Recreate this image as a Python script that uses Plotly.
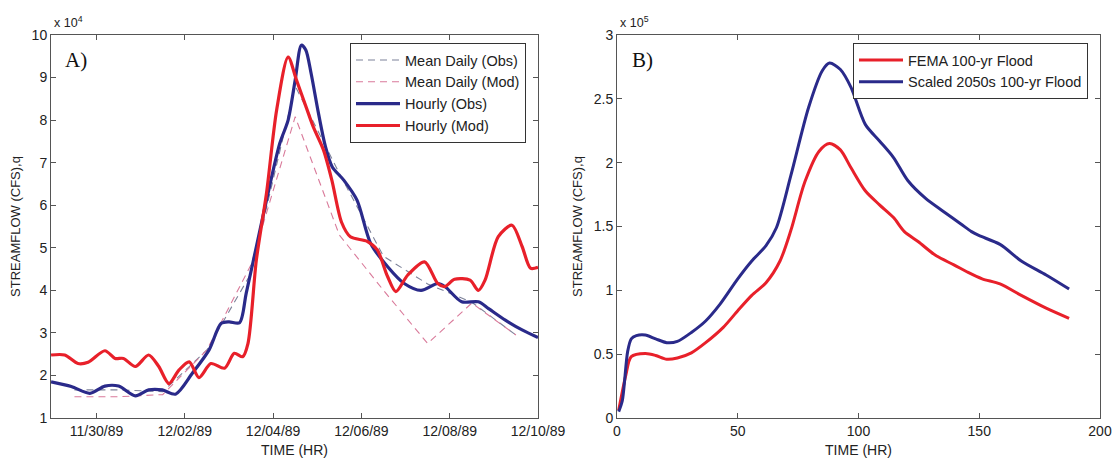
import pandas as pd
import plotly.graph_objects as go

# ---------------- Panel A data (streamflow in units of 1e4 cfs) ----------------
# time as days after 11/30/1989 00:00
hourly_obs_days = [-1.03, -0.57, -0.15, 0.19, 0.5, 0.88, 1.18, 1.49, 1.79, 2.17, 2.55, 2.82, 3.0, 3.24,
                   3.39, 3.62, 3.85, 4.15, 4.34, 4.5, 4.64, 4.74, 4.86, 5.02, 5.18, 5.34, 5.6, 5.9, 6.21,
                   6.59, 6.97, 7.35, 7.73, 7.89, 8.27, 8.65, 8.88, 9.26, 9.64, 10.0]
hourly_obs = [1.85, 1.74, 1.58, 1.75, 1.75, 1.52, 1.66, 1.66, 1.56, 2.05, 2.6, 3.22, 3.26, 3.24,
              3.93, 5.02, 6.12, 7.45, 8.0, 8.94, 9.76, 9.65, 9.1, 8.2, 7.4, 6.9, 6.59, 6.12, 5.10,
              4.56, 4.16, 4.0, 4.16, 4.09, 3.73, 3.73, 3.57, 3.30, 3.07, 2.89]

hourly_mod_days = [-1.03, -0.72, -0.42, -0.19, 0.19, 0.42, 0.61, 0.88, 1.18, 1.41, 1.64, 1.87, 2.1, 2.32,
                   2.59, 2.9, 3.12, 3.31, 3.43, 3.62, 3.85, 4.08, 4.34, 4.53, 4.75, 4.91, 5.14, 5.33,
                   5.55, 5.75, 6.13, 6.36, 6.59, 6.78, 7.05, 7.43, 7.73, 7.89, 8.11, 8.46, 8.65, 8.8,
                   9.1, 9.41, 9.64, 9.83, 10.0]
hourly_mod = [2.48, 2.48, 2.28, 2.31, 2.58, 2.40, 2.40, 2.21, 2.48, 2.21, 1.81, 2.13, 2.32, 1.95,
              2.28, 2.17, 2.52, 2.44, 2.75, 4.71, 6.28, 8.24, 9.48, 8.94, 8.3, 7.84, 7.30, 6.59,
              5.6, 5.26, 5.15, 4.95, 4.33, 3.97, 4.36, 4.67, 4.16, 4.09, 4.26, 4.24, 4.0, 4.24,
              5.26, 5.53, 5.03, 4.52, 4.54]

daily_days = [-0.5, 0.5, 1.5, 2.5, 3.5, 4.5, 5.5, 6.5, 7.5, 8.5, 9.5]
daily_obs = [1.66, 1.66, 1.62, 2.6, 4.4, 8.8, 6.75, 4.8, 4.15, 3.72, 2.95]
daily_mod = [1.5, 1.5, 1.55, 2.6, 4.6, 8.08, 5.3, 4.0, 2.75, 3.7, 2.95]

date_ticks = ["1989-11-30", "1989-12-02", "1989-12-04", "1989-12-06", "1989-12-08", "1989-12-10"]
date_tick_labels = ["11/30/89", "12/02/89", "12/04/89", "12/06/89", "12/08/89", "12/10/89"]

# ---------------- Panel B data (streamflow in units of 1e5 cfs) ----------------
fema_hours = [0.7, 3.7, 5.9, 11.7, 16, 20.6, 25, 30.8, 36.7, 44, 50, 55.8, 61.7, 67.5, 72, 77.8, 83.7,
              88, 92.5, 96.9, 102.8, 108.7, 114.5, 119, 124.8, 132.2, 139.5, 145.4, 151.2, 158.6,
              167.4, 177.7, 187.2]
fema_flow = [0.06, 0.34, 0.48, 0.505, 0.49, 0.46, 0.47, 0.51, 0.59, 0.71, 0.84, 0.96, 1.06, 1.23, 1.47,
             1.85, 2.09, 2.15, 2.1, 1.96, 1.78, 1.67, 1.57, 1.46, 1.38, 1.27, 1.2, 1.14, 1.09, 1.05,
             0.96, 0.86, 0.78]
scaled_hours = [0.7, 2.2, 4.4, 5.9, 8, 11.7, 16, 20.6, 25, 30.8, 36.7, 42.6, 50, 55.8, 61.7, 66, 72,
                79.3, 85, 88, 92.5, 96.9, 102.8, 108.7, 114.5, 120.4, 127.8, 135, 142.4, 146.8, 149.8,
                158.6, 167.4, 177.7, 187.2]
scaled_flow = [0.05, 0.135, 0.52, 0.62, 0.645, 0.65, 0.62, 0.59, 0.6, 0.67, 0.76, 0.89, 1.09, 1.23,
               1.35, 1.49, 1.9, 2.43, 2.72, 2.78, 2.73, 2.59, 2.3, 2.17, 2.04, 1.86, 1.72, 1.62, 1.52,
               1.46, 1.43, 1.36, 1.23, 1.12, 1.01]

# ---------------- styling ----------------
RED = "#e8202a"
BLUE = "#2a2a8a"
OBS_DASH = "#7d8299"
MOD_DASH = "#d97a9a"
AXC = "#555555"
FONT = "Liberation Sans, Arial, sans-serif"
SERIF = "Liberation Serif, Times New Roman, serif"

W, H = 1117, 458
base = pd.Timestamp("1989-11-30")


def to_dates(days):
    return [base + pd.to_timedelta(d, unit="D") for d in days]


fig = go.Figure()

fig.add_trace(go.Scatter(x=to_dates(daily_days), y=daily_obs, mode="lines", name="Mean Daily (Obs)",
                         line=dict(color=OBS_DASH, width=1.1, dash="7px,5px"), xaxis="x", yaxis="y",
                         legend="legend"))
fig.add_trace(go.Scatter(x=to_dates(daily_days), y=daily_mod, mode="lines", name="Mean Daily (Mod)",
                         line=dict(color=MOD_DASH, width=1.1, dash="7px,5px"), xaxis="x", yaxis="y",
                         legend="legend"))
fig.add_trace(go.Scatter(x=to_dates(hourly_obs_days), y=hourly_obs, mode="lines", name="Hourly (Obs)",
                         line=dict(color=BLUE, width=3.2, shape="spline", smoothing=0.8), xaxis="x",
                         yaxis="y", legend="legend"))
fig.add_trace(go.Scatter(x=to_dates(hourly_mod_days), y=hourly_mod, mode="lines", name="Hourly (Mod)",
                         line=dict(color=RED, width=3.2, shape="spline", smoothing=0.8), xaxis="x",
                         yaxis="y", legend="legend"))

fig.add_trace(go.Scatter(x=fema_hours, y=fema_flow, mode="lines", name="FEMA 100-yr Flood",
                         line=dict(color=RED, width=3, shape="spline", smoothing=0.8), xaxis="x2",
                         yaxis="y2", legend="legend2"))
fig.add_trace(go.Scatter(x=scaled_hours, y=scaled_flow, mode="lines", name="Scaled 2050s 100-yr Flood",
                         line=dict(color=BLUE, width=3, shape="spline", smoothing=0.8), xaxis="x2",
                         yaxis="y2", legend="legend2"))

ytop = 1 - 35 / H
ybot = 1 - 418 / H

axis_common = dict(showline=True, linecolor=AXC, linewidth=1, mirror="ticks", ticks="inside",
                   ticklen=5, tickcolor=AXC, showgrid=False, zeroline=False, automargin=False,
                   tickfont=dict(family=FONT, size=14, color="#222"))

legend_common = dict(y=1 - 43 / H, xanchor="left", yanchor="top",
                     bgcolor="white", bordercolor="#333", borderwidth=1,
                     font=dict(family=FONT, size=14.5, color="#222"), tracegroupgap=0,
                     itemwidth=44)

fig.update_layout(
    width=W, height=H, autosize=False,
    margin=dict(l=0, r=0, t=0, b=0),
    paper_bgcolor="white", plot_bgcolor="white",
    font=dict(family=FONT, size=13, color="#222"),
    xaxis=dict(domain=[51 / W, 538 / W], type="date",
               range=["1989-11-28 23:15", "1989-12-10 00:00"],
               tickvals=date_ticks, ticktext=date_tick_labels,
               title=dict(text="TIME (HR)", font=dict(family=FONT, size=14), standoff=9),
               anchor="y", **axis_common),
    yaxis=dict(domain=[ybot, ytop], range=[1, 10], dtick=1, tick0=1,
               title=dict(text="STREAMFLOW (CFS),q", font=dict(family=FONT, size=13), standoff=8),
               anchor="x", **axis_common),
    xaxis2=dict(domain=[617 / W, 1100 / W], range=[0, 200], dtick=50, tick0=0,
                title=dict(text="TIME (HR)", font=dict(family=FONT, size=14), standoff=9),
                anchor="y2", **axis_common),
    yaxis2=dict(domain=[ybot, ytop], range=[0, 3], dtick=0.5, tick0=0,
                title=dict(text="STREAMFLOW (CFS),q", font=dict(family=FONT, size=13), standoff=8),
                anchor="x2", **axis_common),
    legend=dict(x=350 / W, **legend_common),
    legend2=dict(x=853 / W, **legend_common),
    showlegend=True,
)

fig.add_annotation(x=52 / W, y=1 - 22 / H, xref="paper", yref="paper", xanchor="left",
                   yanchor="middle", showarrow=False, text="x 10<sup>4</sup>",
                   font=dict(family=FONT, size=12.5, color="#222"))
fig.add_annotation(x=618 / W, y=1 - 22 / H, xref="paper", yref="paper", xanchor="left",
                   yanchor="middle", showarrow=False, text="x 10<sup>5</sup>",
                   font=dict(family=FONT, size=12.5, color="#222"))
fig.add_annotation(x=63 / W, y=1 - 60 / H, xref="paper", yref="paper", xanchor="left",
                   yanchor="middle", showarrow=False, text="A)",
                   font=dict(family=SERIF, size=21, color="#111"))
fig.add_annotation(x=630 / W, y=1 - 60 / H, xref="paper", yref="paper", xanchor="left",
                   yanchor="middle", showarrow=False, text="B)",
                   font=dict(family=SERIF, size=21, color="#111"))

fig.write_html("out.html", config={"displayModeBar": False},
               post_script="document.body.style.margin='0px';")
